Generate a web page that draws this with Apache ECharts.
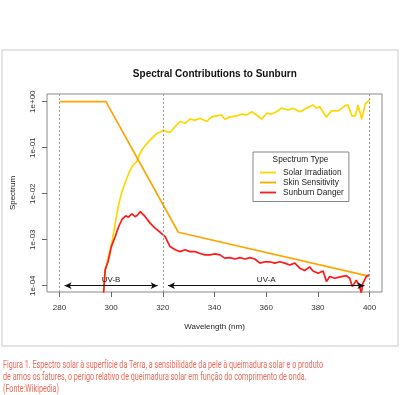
<!DOCTYPE html>
<html><head><meta charset="utf-8">
<script src="https://cdn.jsdelivr.net/npm/echarts@6/dist/echarts.min.js"></script>
<style>html,body{margin:0;padding:0;background:#fff;}#c{width:400px;height:395px;}</style>
</head><body><div id="c"></div>
<script>
// ---- data ----
const seriesNames = ['Solar Irradiation', 'Skin Sensitivity', 'Sunburn Danger'];
const solarWl = [296.8,297.7,298.5,299.7,300.5,301.6,302.9,304.2,305.2,306.1,307.1,308.1,309.0,310.0,311.0,311.9,313.2,314.5,316.0,317.7,319.0,320.2,321.5,322.8,324.8,326.7,328.6,330.5,332.5,334.4,337.0,338.9,340.8,342.8,344.0,346.0,348.6,350.5,352.4,354.4,356.3,358.2,360.2,362.1,364.0,365.9,368.5,370.4,373.0,375.6,378.1,379.4,380.7,383.3,385.2,387.8,390.4,391.6,393.2,394.5,395.5,397.0,398.3,400.0];
const solarVal = [4.0e-5,2.19e-4,3.31e-4,6.31e-4,1.0e-3,2.24e-3,5.75e-3,1.10e-2,1.58e-2,2.14e-2,3.02e-2,3.89e-2,4.47e-2,5.01e-2,7.08e-2,8.91e-2,0.112,0.135,0.166,0.204,0.219,0.240,0.224,0.214,0.288,0.372,0.339,0.417,0.398,0.437,0.372,0.468,0.490,0.513,0.417,0.468,0.490,0.537,0.513,0.603,0.513,0.417,0.562,0.537,0.603,0.724,0.661,0.724,0.603,0.724,0.851,0.724,0.776,0.457,0.631,0.631,0.813,0.851,0.490,0.490,0.851,0.417,0.891,1.096];
const skinWl = [280, 298, 326, 400];
const skinVal = [1, 1, 1.45e-3, 1.6e-4];
const dangerWl = [296.8,297.7,298.8,300.1,301.6,302.9,304.2,305.7,306.7,308.0,309.3,310.3,311.3,313.2,315.1,317.0,319.0,320.9,322.8,324.8,326.7,328.6,330.5,332.5,334.4,336.3,338.3,340.2,342.1,344.0,346.0,347.9,349.8,351.8,353.7,355.6,357.6,359.5,361.4,363.3,365.3,367.2,369.1,371.1,373.0,374.9,376.8,378.1,380.1,382.0,383.3,384.6,386.5,389.1,391.0,392.3,393.3,394.9,396.1,396.8,397.4,398.7,399.7];
const dangerVal = [4.0e-5,2.19e-4,3.31e-4,7.08e-4,1.17e-3,1.91e-3,2.75e-3,3.31e-3,3.09e-3,3.63e-3,3.16e-3,3.47e-3,4.07e-3,3.16e-3,2.29e-3,1.78e-3,1.45e-3,1.17e-3,7.08e-4,6.03e-4,5.50e-4,6.03e-4,5.50e-4,5.50e-4,5.01e-4,4.68e-4,4.68e-4,4.90e-4,4.68e-4,3.98e-4,4.07e-4,3.80e-4,4.07e-4,3.80e-4,4.07e-4,3.80e-4,3.09e-4,3.31e-4,3.31e-4,3.09e-4,3.31e-4,3.09e-4,2.82e-4,3.09e-4,2.40e-4,2.14e-4,2.57e-4,2.09e-4,1.86e-4,2.09e-4,1.23e-4,1.58e-4,1.45e-4,1.58e-4,1.66e-4,1.45e-4,9.55e-5,1.32e-4,9.55e-5,6.92e-5,1.12e-4,1.58e-4,1.74e-4];
const xTicks = [280, 300, 320, 340, 360, 380, 400];
const yTicks = [1e-4, 1e-3, 1e-2, 1e-1, 1];
const yTickLabels = ['1e-04', '1e-03', '1e-02', '1e-01', '1e+00'];
const refLines = [280, 320, 400];
const bandNames = ['UV-B', 'UV-A'];
const bandStart = [282, 322];
const bandEnd = [318, 398];
const bandLevel = 1e-4;
const captionLines = [
  'Figura 1. Espectro solar à superfície da Terra, a sensibilidade da pele à queimadura solar e o produto',
  'de amos os fatures, o perigo relativo de queimadura solar em função do comprimento de onda.',
  '(Fonte:Wikipedia)'
];

// ---- build ----
const FONT = '"Liberation Sans", Arial, Helvetica, sans-serif';
const pairs = (xs, ys) => xs.map((x, i) => [x, ys[i]]);
const capFont = '10px Roboto';
const cctx = document.createElement('canvas').getContext('2d');
cctx.font = capFont;
const capScale = 320 / cctx.measureText(captionLines[0]).width;
const colors = ['#FFD700', '#FFA500', '#FF1A1A'];
const lineIcon = 'path://M0,0 L16,0 L16,1.8 L0,1.8 Z';

const chart = echarts.init(document.getElementById('c'), null, {renderer: 'canvas'});
chart.setOption({
  animation: false,
  backgroundColor: '#fff',
  color: colors,
  title: {
    text: 'Spectral Contributions to Sunburn',
    left: 214.8, top: 69, padding: 0, textAlign: 'center',
    textStyle: {fontFamily: FONT, fontSize: 10, fontWeight: 'bold', color: '#111'}
  },
  legend: {
    data: seriesNames.map(n => ({name: n, icon: lineIcon})),
    orient: 'vertical', left: 253, top: 152,
    padding: [16.5, 5, 5, 7],
    itemWidth: 16, itemHeight: 8, itemGap: 2, symbolKeepAspect: true,
    borderColor: '#888', borderWidth: 1,
    textStyle: {fontFamily: FONT, fontSize: 8.3, color: '#222', padding: [0, 0, 0, 2]}
  },
  grid: {left: 47, right: 18, top: 94, bottom: 103, show: true, borderColor: '#888', borderWidth: 1, containLabel: false, outerBoundsMode: 'none'},
  xAxis: {
    type: 'value', min: 275.2, max: 404.8,
    name: 'Wavelength (nm)', nameLocation: 'middle', nameGap: 31,
    nameTextStyle: {fontFamily: FONT, fontSize: 8, color: '#222'},
    axisLine: {show: false},
    axisTick: {show: true, length: 5, lineStyle: {color: '#666'}, customValues: xTicks},
    axisLabel: {fontFamily: FONT, fontSize: 8, color: '#333', margin: 12, customValues: xTicks},
    splitLine: {show: false}
  },
  yAxis: {
    type: 'log', logBase: 10, min: Math.pow(10, -4.137), max: Math.pow(10, 0.167),
    name: 'Spectrum', nameLocation: 'middle', nameGap: 30, nameRotate: 90,
    nameTextStyle: {fontFamily: FONT, fontSize: 8, color: '#222'},
    axisLine: {show: false},
    axisTick: {show: true, length: 5, lineStyle: {color: '#666'}, customValues: yTicks},
    axisLabel: {
      fontFamily: FONT, fontSize: 8, color: '#333', margin: 10, rotate: 90, customValues: yTicks,
      formatter: function (v) {
        let best = 0, bd = Infinity;
        yTicks.forEach(function (t, i) { const d = Math.abs(Math.log10(t) - Math.log10(v)); if (d < bd) { bd = d; best = i; } });
        return yTickLabels[best];
      }
    },
    splitLine: {show: false}
  },
  series: [
    {
      name: seriesNames[0], type: 'line', symbol: 'none', data: pairs(solarWl, solarVal),
      lineStyle: {width: 1.7, color: colors[0]}, itemStyle: {color: colors[0]}, z: 2
    },
    {
      name: seriesNames[1], type: 'line', symbol: 'none', data: pairs(skinWl, skinVal),
      lineStyle: {width: 1.7, color: colors[1]}, itemStyle: {color: colors[1]}, z: 3,
      markLine: {
        silent: true, symbol: ['none', 'none'], animation: false,
        label: {show: false},
        lineStyle: {color: '#9a9a9a', type: [2, 2], width: 1},
        data: refLines.map(v => ({xAxis: v}))
      }
    },
    {
      name: seriesNames[2], type: 'line', symbol: 'none', data: pairs(dangerWl, dangerVal),
      lineStyle: {width: 1.7, color: colors[2]}, itemStyle: {color: colors[2]}, z: 4,
      markLine: {
        silent: true, animation: false,
        symbol: ['arrow', 'arrow'], symbolSize: [5, 7],
        lineStyle: {color: '#111', type: 'solid', width: 1.2},
        label: {show: true, position: 'middle', formatter: '{b}', distance: 2, fontFamily: FONT, fontSize: 8, color: '#222'},
        data: bandNames.map((n, i) => [
          {name: n, coord: [bandStart[i], bandLevel]},
          {coord: [bandEnd[i], bandLevel]}
        ])
      }
    }
  ],
  graphic: [
    {type: 'rect', silent: true, shape: {x: 2, y: 50, width: 396, height: 296}, style: {fill: 'none', stroke: '#dcdcdc', lineWidth: 1.5}, z: -1},
    {type: 'text', silent: true, x: 300.5, y: 160, style: {text: 'Spectrum Type', align: 'center', verticalAlign: 'middle', font: '8.3px ' + FONT, fill: '#222'}},
    {type: 'text', silent: true, x: 3, y: 365, scaleX: capScale, style: {text: captionLines[0], verticalAlign: 'middle', font: capFont, fill: '#ef6a5a'}},
    {type: 'text', silent: true, x: 3, y: 377, scaleX: capScale, style: {text: captionLines[1], verticalAlign: 'middle', font: capFont, fill: '#ef6a5a'}},
    {type: 'text', silent: true, x: 3, y: 389, scaleX: capScale, style: {text: captionLines[2], verticalAlign: 'middle', font: capFont, fill: '#ef6a5a'}}
  ]
});
</script></body></html>
